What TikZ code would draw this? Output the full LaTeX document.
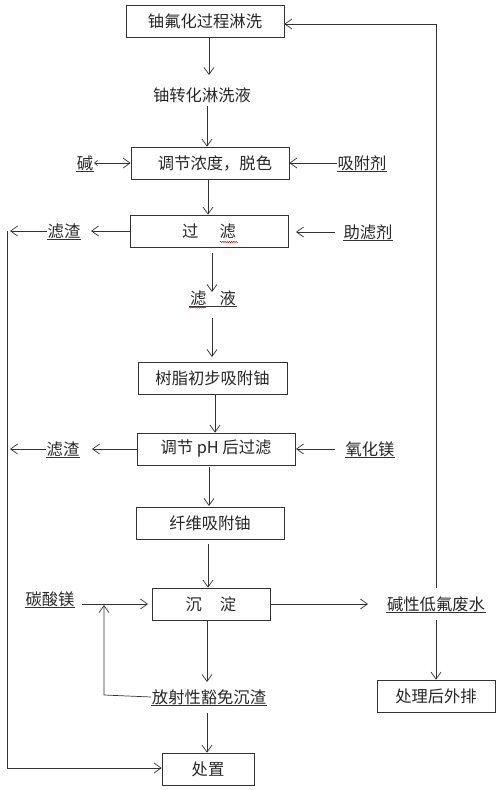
\documentclass[tikz,border=0pt]{standalone}
\usepackage{fontspec}
\setmainfont{Noto Sans CJK SC}
\usetikzlibrary{arrows.meta,decorations.pathmorphing}
\begin{document}
\begin{tikzpicture}[x=1pt,y=-1pt,
  line width=0.7pt, draw=black!80,
  every node/.style={font=\fontsize{16.3}{18}\selectfont, text=black!85},
  box/.style={draw=black!80, minimum height=32pt, inner sep=0pt},
  lbl/.style={inner sep=0.5pt},
  ul/.style={append after command={(\tikzlastnode.south west) edge[draw=black!80, line width=0.6pt] (\tikzlastnode.south east)}},
  arr/.style={-{Straight Barb[length=7pt,width=10pt]}},
  wavy/.style={draw=red!80!black, line width=0.5pt, decorate, decoration={snake, amplitude=0.6pt, segment length=2.2pt}}
]
\useasboundingbox (0,0) rectangle (500,790);

% boxes and labels
\node[box, minimum width=158pt] (b1) at (205,21) {铀氟化过程淋洗};
\node[lbl] (t2) at (202,95) {铀转化淋洗液};
\node[box, minimum width=158pt] (b3) at (210,163) {\hspace{10pt}调节浓度，脱色};
\node[lbl, ul] (jian) at (85,163) {碱};
\node[lbl, ul] (xfj) at (362,163) {吸附剂};
\node[box, minimum width=158pt] (b4) at (209,231) {过\hspace{1.3em}滤};
\node[lbl, ul] (lz1) at (64,231) {滤渣};
\node[lbl, ul] (zlj) at (368,232) {助滤剂};
\node[lbl, ul] (t5) at (213,298) {滤\hspace{0.8em}液};
\node[box, minimum width=149pt] (b6) at (212.5,378.5) {树脂初步吸附铀};
\node[box, minimum width=158pt] (b7) at (216,449) {调节 pH 后过滤};
\node[lbl, ul] (lz2) at (63,449) {滤渣};
\node[lbl, ul] (yhm) at (370,449) {氧化镁};
\node[box, minimum width=148pt] (b8) at (210,523) {纤维吸附铀};
\node[box, minimum width=118pt] (b9) at (211,604) {沉\hspace{1.1em}淀};
\node[lbl, ul] (tsm) at (50,599) {碳酸镁};
\node[lbl, ul] (fs) at (436,604) {碱性低氟废水};
\node[box, minimum width=118pt] (b11) at (436,696) {处理后外排};
\node[lbl, ul] (cz) at (209,697) {放射性豁免沉渣};
\node[box, minimum width=92pt] (b13) at (208,769) {处置};

% spell-check wavy marks
\draw[wavy] (220,242) -- (238,242);
\draw[wavy] (189,307.5) -- (206,307.5);

% coordinates
\coordinate (r1) at (436,24);
\coordinate (r2) at (436,588);
\coordinate (l1) at (7,231);
\coordinate (l2) at (7,768);
\coordinate (fb1) at (104,695);
\coordinate (fb2) at (104,605);

% main flow
\draw[arr] (b1.south -| 209,0) -- (209,75);
\draw[arr] (207,106) -- (b3.north -| 207,0);
\draw[arr] (b3.south -| 208,0) -- (b4.north -| 208,0);
\draw[arr] (212,253) -- (212,292);
\draw[arr] (212,318) -- (212,357);
\draw[arr] (b6.south -| 215,0) -- (b7.north -| 215,0);
\draw[arr] (209,467) -- (209,506);
\draw[arr] (208,544) -- (b9.north -| 208,0);
\draw[arr] (b9.south -| 207,0) -- (207,682);
\draw[arr] (207,713) -- (b13.north -| 207,0);

% side inputs
\draw[{Straight Barb[length=3pt,width=5pt]}-{Straight Barb[length=7pt,width=10pt]}] (jian.east) -- (b3.west);
\draw[arr] (337,163) -- (b3.east);
\draw[arr] (335,232) -- (296,232);
\draw[arr] (335,449) -- (296,449);
\draw[arr] (82,604) -- (148,604);

% residues
\draw[arr] (b4.west) -- (91,231);
\draw[arr] (lz1.west) -- (10,231);
\draw[arr] (b7.west) -- (92,449);
\draw[arr] (lz2.west) -- (10,449);
\draw[arr] (l1) -- (l2) -- (b13.west |- l2);

% feedback of precipitate
\draw[arr] (cz.west) -- (fb1) -- (fb2);

% waste water
\draw[arr] (b9.east) -- (368,604);
\draw[arr] (r2) -- (r1) -- (b1.east |- r1);
\draw[arr] (436,620) -- (b11.north);
\end{tikzpicture}
\end{document}
